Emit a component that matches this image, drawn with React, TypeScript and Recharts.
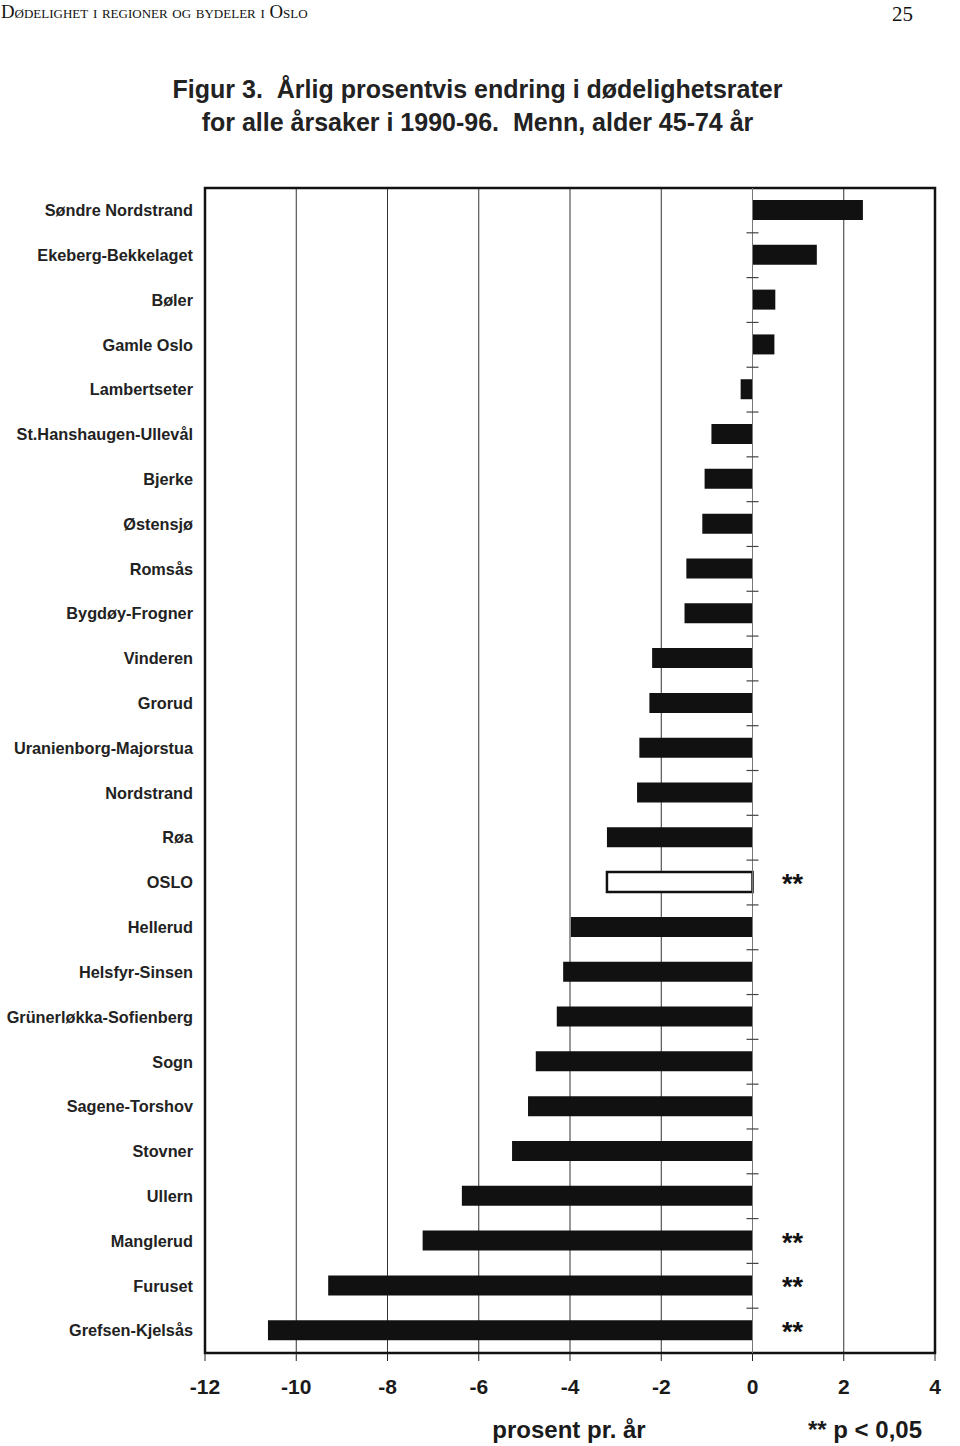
import React from 'react';
import {
  BarChart,
  Bar,
  XAxis,
  YAxis,
  CartesianGrid,
  ReferenceLine,
  ReferenceArea,
  Cell,
  LabelList,
} from 'recharts';

const districts = [
  'Søndre Nordstrand',
  'Ekeberg-Bekkelaget',
  'Bøler',
  'Gamle Oslo',
  'Lambertseter',
  'St.Hanshaugen-Ullevål',
  'Bjerke',
  'Østensjø',
  'Romsås',
  'Bygdøy-Frogner',
  'Vinderen',
  'Grorud',
  'Uranienborg-Majorstua',
  'Nordstrand',
  'Røa',
  'OSLO',
  'Hellerud',
  'Helsfyr-Sinsen',
  'Grünerløkka-Sofienberg',
  'Sogn',
  'Sagene-Torshov',
  'Stovner',
  'Ullern',
  'Manglerud',
  'Furuset',
  'Grefsen-Kjelsås',
];

const changes = [
  2.42, 1.41, 0.5, 0.48, -0.26, -0.9, -1.05, -1.1, -1.45, -1.49, -2.2, -2.26,
  -2.48, -2.53, -3.19, -3.19, -3.98, -4.15, -4.29, -4.75, -4.92, -5.27, -6.37,
  -7.23, -9.3, -10.62,
];

const significant = ['OSLO', 'Manglerud', 'Furuset', 'Grefsen-Kjelsås'];
const totalName = 'OSLO';
const xTicks = [-12, -10, -8, -6, -4, -2, 0, 2, 4];

const data = districts.map((name, i) => ({
  name,
  value: changes[i],
  sig: significant.includes(name) ? '**' : '',
}));

const SANS = "'Liberation Sans', Arial, Helvetica, sans-serif";
const SERIF = "'Liberation Serif', 'Times New Roman', serif";

const ZeroAxis = (props: any) => {
  const { x1, y1, y2 } = props;
  const top = Math.min(y1, y2);
  const bottom = Math.max(y1, y2);
  const n = data.length;
  const step = (bottom - top) / n;
  const marks: number[] = [];
  for (let i = 1; i < n; i++) marks.push(top + i * step);
  return (
    <g>
      <line x1={x1} x2={x1} y1={top} y2={bottom} stroke="#777" strokeWidth={1} />
      {marks.map((y, i) => (
        <line key={i} x1={x1 - 6} x2={x1 + 6} y1={y} y2={y} stroke="#444" strokeWidth={1.2} />
      ))}
    </g>
  );
};

const StarLabel = (props: any) => {
  const { x, y, width, height, value } = props;
  if (!value) return null;
  const right = Math.max(Number(x), Number(x) + Number(width));
  return (
    <text
      x={right + 40}
      y={Number(y) + Number(height) / 2 + 11}
      textAnchor="middle"
      fontSize={27}
      fontWeight="bold"
      fontFamily={SANS}
      fill="#111"
    >
      {value}
    </text>
  );
};

export default function App() {
  return (
    <div
      style={{
        position: 'absolute',
        left: 0,
        top: 0,
        width: 960,
        height: 1446,
        background: '#fff',
        overflow: 'hidden',
      }}
    >
      <div
        style={{
          position: 'absolute',
          left: 1,
          top: 0,
          fontFamily: SERIF,
          fontSize: 18.8,
          fontVariant: 'small-caps',
          color: '#111',
          lineHeight: '24px',
        }}
      >
        Dødelighet i regioner og bydeler i Oslo
      </div>
      <div
        style={{
          position: 'absolute',
          left: 892,
          top: 1,
          fontFamily: SERIF,
          fontSize: 21,
          color: '#111',
          lineHeight: '26px',
        }}
      >
        25
      </div>
      <div
        style={{
          position: 'absolute',
          left: 0,
          top: 73,
          width: 955,
          textAlign: 'center',
          fontFamily: SANS,
          fontWeight: 'bold',
          fontSize: 25,
          lineHeight: '33px',
          color: '#222',
        }}
      >
        Figur 3.&nbsp; Årlig prosentvis endring i dødelighetsrater
        <br />
        for alle årsaker i 1990-96.&nbsp; Menn, alder 45-74 år
      </div>

      <div style={{ position: 'absolute', left: 0, top: 0 }}>
        <BarChart
          width={960}
          height={1446}
          data={data}
          layout="vertical"
          margin={{ top: 188, right: 25, bottom: 43, left: 5 }}
          barSize={20}
        >
          <CartesianGrid horizontal={false} vertical stroke="#333" strokeWidth={1} />
          <XAxis
            type="number"
            domain={[-12, 4]}
            ticks={xTicks}
            interval={0}
            allowDataOverflow
            axisLine={false}
            tickSize={8}
            tickMargin={18}
            height={50}
            tickLine={{ stroke: '#222', strokeWidth: 1 }}
            tick={{ fontSize: 21, fontWeight: 'bold', fill: '#1a1a1a', fontFamily: SANS }}
          />
          <YAxis
            type="category"
            dataKey="name"
            width={200}
            axisLine={false}
            tickLine={false}
            tickSize={0}
            tickMargin={12}
            interval={0}
            tick={{ fontSize: 16.3, fontWeight: 'bold', fill: '#222', fontFamily: SANS }}
          />
          <ReferenceLine x={0} shape={ZeroAxis} />
          <Bar dataKey="value" isAnimationActive={false}>
            {data.map((d) => (
              <Cell
                key={d.name}
                fill={d.name === totalName ? '#ffffff' : '#111111'}
                stroke={d.name === totalName ? '#111111' : 'none'}
                strokeWidth={d.name === totalName ? 2.5 : 0}
              />
            ))}
            <LabelList dataKey="sig" content={StarLabel} />
          </Bar>
          <ReferenceArea x1={-12} x2={4} fill="none" fillOpacity={0} stroke="#111" strokeWidth={2.5} />
        </BarChart>
      </div>

      <div
        style={{
          position: 'absolute',
          left: 469,
          top: 1415,
          fontFamily: SANS,
          fontWeight: 'bold',
          fontSize: 24,
          color: '#1a1a1a',
          lineHeight: '30px',
          width: 200,
          textAlign: 'center',
        }}
      >
        prosent pr. år
      </div>
      <div
        style={{
          position: 'absolute',
          left: 772,
          top: 1415,
          fontFamily: SANS,
          fontWeight: 'bold',
          fontSize: 24,
          color: '#1a1a1a',
          lineHeight: '30px',
          width: 150,
          textAlign: 'right',
        }}
      >
        ** p &lt; 0,05
      </div>
    </div>
  );
}
